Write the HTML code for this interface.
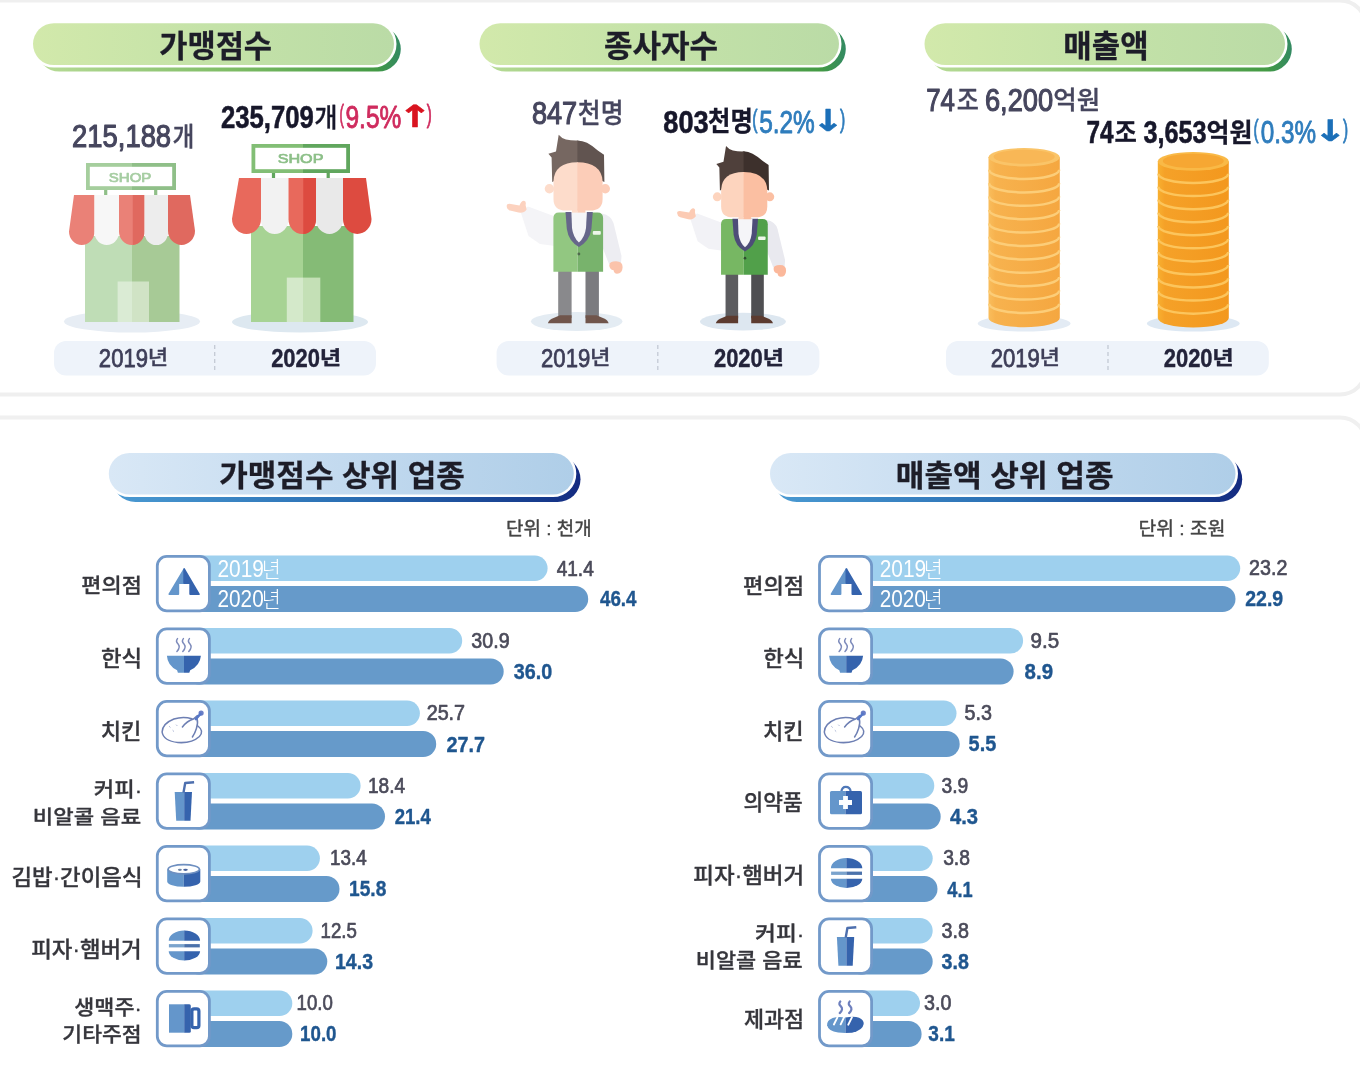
<!DOCTYPE html>
<html lang="ko"><head><meta charset="utf-8"><title>가맹점수 종사자수 매출액</title>
<style>
html,body{margin:0;padding:0;background:#fff;}
body{width:1360px;height:1072px;overflow:hidden;font-family:"Liberation Sans", "Noto Sans CJK KR", "NanumGothic", sans-serif;}
svg{display:block;}
svg text{font-family:"Liberation Sans", "Noto Sans CJK KR", "NanumGothic", sans-serif;}
</style></head><body>
<svg width="1360" height="1072" viewBox="0 0 1360 1072">
<defs>
<linearGradient id="gp" x1="0" x2="1" y1="0" y2="0"><stop offset="0" stop-color="#d2e9ab"/><stop offset="0.5" stop-color="#c4e2a8"/><stop offset="1" stop-color="#badba6"/></linearGradient>
<linearGradient id="gs" x1="0" x2="1" y1="0" y2="0"><stop offset="0" stop-color="#b9dc98"/><stop offset="0.55" stop-color="#7cbb63"/><stop offset="0.93" stop-color="#439a44"/><stop offset="1" stop-color="#338a62"/></linearGradient>
<linearGradient id="bp" x1="0" x2="1" y1="0" y2="0"><stop offset="0" stop-color="#d9e8f6"/><stop offset="0.5" stop-color="#c3daef"/><stop offset="1" stop-color="#afcee8"/></linearGradient>
<linearGradient id="bs" x1="0" x2="1" y1="0" y2="0"><stop offset="0" stop-color="#4a9ad2"/><stop offset="0.5" stop-color="#2a6fb4"/><stop offset="0.92" stop-color="#163a8c"/><stop offset="1" stop-color="#142a80"/></linearGradient>
<linearGradient id="c1" x1="0" x2="1" y1="0" y2="0"><stop offset="0" stop-color="#f9bd5c"/><stop offset="0.1" stop-color="#f7b24e"/><stop offset="1" stop-color="#f5a740"/></linearGradient>
<linearGradient id="c2" x1="0" x2="1" y1="0" y2="0"><stop offset="0" stop-color="#f8b030"/><stop offset="0.1" stop-color="#f5a128"/><stop offset="1" stop-color="#f3981e"/></linearGradient>
</defs>
<rect x="-40" y="0.5" width="1406" height="394" rx="26" fill="#fff" stroke="#efefef" stroke-width="4"/>
<rect x="-40" y="417.5" width="1406" height="700" rx="26" fill="#fff" stroke="#f0f0f0" stroke-width="4"/>
<rect x="36.8" y="26.5" width="364.0" height="45.099999999999994" rx="22.549999999999997" fill="url(#gs)"/>
<rect x="33" y="23.2" width="361" height="41.8" rx="20.9" fill="#fff" stroke="#fff" stroke-width="5"/>
<rect x="33" y="23.2" width="361" height="41.8" rx="20.9" fill="url(#gp)"/>
<rect x="483.3" y="26.5" width="362.49999999999994" height="45.099999999999994" rx="22.549999999999997" fill="url(#gs)"/>
<rect x="479.5" y="23.2" width="359.5" height="41.8" rx="20.9" fill="#fff" stroke="#fff" stroke-width="5"/>
<rect x="479.5" y="23.2" width="359.5" height="41.8" rx="20.9" fill="url(#gp)"/>
<rect x="928.3" y="26.5" width="363.5" height="45.099999999999994" rx="22.549999999999997" fill="url(#gs)"/>
<rect x="924.5" y="23.2" width="360.5" height="41.8" rx="20.9" fill="#fff" stroke="#fff" stroke-width="5"/>
<rect x="924.5" y="23.2" width="360.5" height="41.8" rx="20.9" fill="url(#gp)"/>
<text x="159.23" y="56.83" font-size="30.21" font-weight="700" fill="#1d1d28" stroke="#1d1d28" stroke-width="0.3" stroke-linejoin="round" textLength="112.85" lengthAdjust="spacingAndGlyphs">가맹점수</text>
<text x="603.91" y="56.83" font-size="30.21" font-weight="700" fill="#1d1d28" stroke="#1d1d28" stroke-width="0.3" stroke-linejoin="round" textLength="114.18" lengthAdjust="spacingAndGlyphs">종사자수</text>
<text x="1063.29" y="56.78" font-size="30.74" font-weight="700" fill="#1d1d28" stroke="#1d1d28" stroke-width="0.3" stroke-linejoin="round" textLength="85.34" lengthAdjust="spacingAndGlyphs">매출액</text>
<text><tspan x="72.11" y="146.60" font-size="31.20" font-weight="400" fill="#46465e" stroke="#46465e" stroke-width="1.15" stroke-linejoin="round" textLength="99.01" lengthAdjust="spacingAndGlyphs">215,188</tspan><tspan x="172.40" y="145.54" font-size="25.70" font-weight="500" fill="#46465e" stroke="#46465e" stroke-width="0.3" stroke-linejoin="round" textLength="21.89" lengthAdjust="spacingAndGlyphs">개</tspan></text>
<text><tspan x="220.93" y="128.20" font-size="31.20" font-weight="700" fill="#17172a" stroke="#17172a" stroke-width="0.6" stroke-linejoin="round" textLength="92.80" lengthAdjust="spacingAndGlyphs">235,709</tspan><tspan x="314.24" y="127.46" font-size="26.56" font-weight="500" fill="#17172a" stroke="#17172a" stroke-width="0.3" stroke-linejoin="round" textLength="23.29" lengthAdjust="spacingAndGlyphs">개</tspan></text>
<text><tspan x="531.89" y="124.20" font-size="31.20" font-weight="400" fill="#46465e" stroke="#46465e" stroke-width="1.15" stroke-linejoin="round" textLength="45.29" lengthAdjust="spacingAndGlyphs">847</tspan><tspan x="577.86" y="123.34" font-size="26.77" font-weight="500" fill="#46465e" stroke="#46465e" stroke-width="0.3" stroke-linejoin="round" textLength="45.73" lengthAdjust="spacingAndGlyphs">천명</tspan></text>
<text><tspan x="663.29" y="132.70" font-size="31.20" font-weight="700" fill="#17172a" stroke="#17172a" stroke-width="0.6" stroke-linejoin="round" textLength="45.30" lengthAdjust="spacingAndGlyphs">803</tspan><tspan x="708.12" y="131.14" font-size="27.05" font-weight="700" fill="#17172a" stroke="#17172a" stroke-width="0.3" stroke-linejoin="round" textLength="44.76" lengthAdjust="spacingAndGlyphs">천명</tspan></text>
<text><tspan x="926.28" y="110.50" font-size="31.20" font-weight="400" fill="#46465e" stroke="#46465e" stroke-width="1.15" stroke-linejoin="round" textLength="28.72" lengthAdjust="spacingAndGlyphs">74</tspan><tspan x="956.69" y="109.79" font-size="26.89" font-weight="500" fill="#46465e" stroke="#46465e" stroke-width="0.3" stroke-linejoin="round" textLength="22.12" lengthAdjust="spacingAndGlyphs">조</tspan> <tspan x="984.91" y="110.50" font-size="31.20" font-weight="400" fill="#46465e" stroke="#46465e" stroke-width="1.15" stroke-linejoin="round" textLength="68.20" lengthAdjust="spacingAndGlyphs">6,200</tspan><tspan x="1053.27" y="109.17" font-size="25.38" font-weight="500" fill="#46465e" stroke="#46465e" stroke-width="0.3" stroke-linejoin="round" textLength="46.97" lengthAdjust="spacingAndGlyphs">억원</tspan></text>
<text><tspan x="1086.53" y="143.00" font-size="31.20" font-weight="700" fill="#17172a" stroke="#17172a" stroke-width="0.6" stroke-linejoin="round" textLength="27.08" lengthAdjust="spacingAndGlyphs">74</tspan><tspan x="1114.48" y="142.31" font-size="25.79" font-weight="700" fill="#17172a" stroke="#17172a" stroke-width="0.3" stroke-linejoin="round" textLength="22.34" lengthAdjust="spacingAndGlyphs">조</tspan> <tspan x="1143.60" y="143.00" font-size="31.20" font-weight="700" fill="#17172a" stroke="#17172a" stroke-width="0.6" stroke-linejoin="round" textLength="63.01" lengthAdjust="spacingAndGlyphs">3,653</tspan><tspan x="1206.60" y="142.27" font-size="25.79" font-weight="700" fill="#17172a" stroke="#17172a" stroke-width="0.3" stroke-linejoin="round" textLength="45.89" lengthAdjust="spacingAndGlyphs">억원</tspan></text>
<text><tspan x="339.45" y="123.40" font-size="25.96" font-weight="400" fill="#cf2b5e" stroke="#cf2b5e" stroke-width="0.9" stroke-linejoin="round" textLength="4.44" lengthAdjust="spacingAndGlyphs">(</tspan><tspan x="345.47" y="128.20" font-size="31.20" font-weight="400" fill="#cf2b5e" stroke="#cf2b5e" stroke-width="0.9" stroke-linejoin="round" textLength="55.79" lengthAdjust="spacingAndGlyphs">9.5%</tspan><tspan x="397.74" y="127.25" font-size="30.41" font-weight="700" fill="#d9131f" stroke="#d9131f" stroke-width="0.5" stroke-linejoin="round" font-family='"DejaVu Sans", "Noto Sans CJK KR", sans-serif' textLength="34.43" lengthAdjust="spacingAndGlyphs">↑</tspan><tspan x="426.85" y="123.40" font-size="25.96" font-weight="400" fill="#cf2b5e" stroke="#cf2b5e" stroke-width="0.9" stroke-linejoin="round" textLength="5.00" lengthAdjust="spacingAndGlyphs">)</tspan></text>
<text><tspan x="752.29" y="127.63" font-size="26.28" font-weight="400" fill="#2f7dbd" stroke="#2f7dbd" stroke-width="0.9" stroke-linejoin="round" textLength="5.30" lengthAdjust="spacingAndGlyphs">(</tspan><tspan x="759.17" y="132.70" font-size="31.20" font-weight="400" fill="#2f7dbd" stroke="#2f7dbd" stroke-width="0.9" stroke-linejoin="round" textLength="55.69" lengthAdjust="spacingAndGlyphs">5.2%</tspan><tspan x="811.98" y="130.75" font-size="30.27" font-weight="700" fill="#1b6fb8" stroke="#1b6fb8" stroke-width="0.5" stroke-linejoin="round" font-family='"DejaVu Sans", "Noto Sans CJK KR", sans-serif' textLength="32.06" lengthAdjust="spacingAndGlyphs">↓</tspan><tspan x="840.05" y="127.63" font-size="26.28" font-weight="400" fill="#2f7dbd" stroke="#2f7dbd" stroke-width="0.9" stroke-linejoin="round" textLength="5.23" lengthAdjust="spacingAndGlyphs">)</tspan></text>
<text><tspan x="1253.54" y="138.09" font-size="25.53" font-weight="400" fill="#2f7dbd" stroke="#2f7dbd" stroke-width="0.9" stroke-linejoin="round" textLength="5.06" lengthAdjust="spacingAndGlyphs">(</tspan><tspan x="1260.72" y="143.00" font-size="31.20" font-weight="400" fill="#2f7dbd" stroke="#2f7dbd" stroke-width="0.9" stroke-linejoin="round" textLength="55.23" lengthAdjust="spacingAndGlyphs">0.3%</tspan><tspan x="1313.55" y="141.25" font-size="29.59" font-weight="700" fill="#1b6fb8" stroke="#1b6fb8" stroke-width="0.5" stroke-linejoin="round" font-family='"DejaVu Sans", "Noto Sans CJK KR", sans-serif' textLength="33.52" lengthAdjust="spacingAndGlyphs">↓</tspan><tspan x="1342.95" y="138.09" font-size="25.53" font-weight="400" fill="#2f7dbd" stroke="#2f7dbd" stroke-width="0.9" stroke-linejoin="round" textLength="5.11" lengthAdjust="spacingAndGlyphs">)</tspan></text>
<rect x="54" y="341" width="322" height="34.5" rx="12" fill="#eef3fa"/>
<line x1="214.7" y1="345" x2="214.7" y2="373" stroke="#c3c9d4" stroke-width="1.3" stroke-dasharray="4 3"/>
<text><tspan x="98.87" y="366.80" font-size="25.40" font-weight="400" fill="#3e3e58" stroke="#3e3e58" stroke-width="0.75" stroke-linejoin="round" textLength="49.18" lengthAdjust="spacingAndGlyphs">2019</tspan><tspan x="147.84" y="365.23" font-size="20.33" font-weight="500" fill="#3e3e58" stroke="#3e3e58" stroke-width="0.3" stroke-linejoin="round" textLength="20.51" lengthAdjust="spacingAndGlyphs">년</tspan></text>
<text><tspan x="271.14" y="366.80" font-size="25.40" font-weight="700" fill="#23233a" stroke="#23233a" stroke-width="0.4" stroke-linejoin="round" textLength="48.85" lengthAdjust="spacingAndGlyphs">2020</tspan><tspan x="319.75" y="365.06" font-size="19.89" font-weight="700" fill="#23233a" stroke="#23233a" stroke-width="0.3" stroke-linejoin="round" textLength="21.47" lengthAdjust="spacingAndGlyphs">년</tspan></text>
<rect x="496.6" y="341" width="322.79999999999995" height="34.5" rx="12" fill="#eef3fa"/>
<line x1="657.8" y1="345" x2="657.8" y2="373" stroke="#c3c9d4" stroke-width="1.3" stroke-dasharray="4 3"/>
<text><tspan x="541.07" y="366.80" font-size="25.40" font-weight="400" fill="#3e3e58" stroke="#3e3e58" stroke-width="0.75" stroke-linejoin="round" textLength="49.18" lengthAdjust="spacingAndGlyphs">2019</tspan><tspan x="590.04" y="365.23" font-size="20.33" font-weight="500" fill="#3e3e58" stroke="#3e3e58" stroke-width="0.3" stroke-linejoin="round" textLength="20.51" lengthAdjust="spacingAndGlyphs">년</tspan></text>
<text><tspan x="713.94" y="366.80" font-size="25.40" font-weight="700" fill="#23233a" stroke="#23233a" stroke-width="0.4" stroke-linejoin="round" textLength="48.85" lengthAdjust="spacingAndGlyphs">2020</tspan><tspan x="762.55" y="365.06" font-size="19.89" font-weight="700" fill="#23233a" stroke="#23233a" stroke-width="0.3" stroke-linejoin="round" textLength="21.47" lengthAdjust="spacingAndGlyphs">년</tspan></text>
<rect x="946" y="341" width="322.79999999999995" height="34.5" rx="12" fill="#eef3fa"/>
<line x1="1108" y1="345" x2="1108" y2="373" stroke="#c3c9d4" stroke-width="1.3" stroke-dasharray="4 3"/>
<text><tspan x="990.67" y="366.80" font-size="25.40" font-weight="400" fill="#3e3e58" stroke="#3e3e58" stroke-width="0.75" stroke-linejoin="round" textLength="49.18" lengthAdjust="spacingAndGlyphs">2019</tspan><tspan x="1039.64" y="365.23" font-size="20.33" font-weight="500" fill="#3e3e58" stroke="#3e3e58" stroke-width="0.3" stroke-linejoin="round" textLength="20.51" lengthAdjust="spacingAndGlyphs">년</tspan></text>
<text><tspan x="1163.74" y="366.80" font-size="25.40" font-weight="700" fill="#23233a" stroke="#23233a" stroke-width="0.4" stroke-linejoin="round" textLength="48.85" lengthAdjust="spacingAndGlyphs">2020</tspan><tspan x="1212.35" y="365.06" font-size="19.89" font-weight="700" fill="#23233a" stroke="#23233a" stroke-width="0.3" stroke-linejoin="round" textLength="21.47" lengthAdjust="spacingAndGlyphs">년</tspan></text>
<ellipse cx="132" cy="321.5" rx="68" ry="11" fill="#e7edf4"/>
<rect x="85" y="236" width="47" height="86" fill="#bfddb6"/>
<rect x="132" y="236" width="47.5" height="86" fill="#a7ca96"/>
<rect x="117.6" y="281.5" width="14.400000000000006" height="40.5" fill="#daebd4"/>
<rect x="132" y="281.5" width="17" height="40.5" fill="#d0e3c5"/>
<rect x="104.10000000000001" y="189" width="3.2" height="7" fill="#8fbf88"/>
<rect x="154.1" y="189" width="3.2" height="7" fill="#8fbf88"/>
<path d="M74,195 L94.5,195 L94.5,231.6125 A12.75,13.387500000000001 0 0 1 69,231.6125 Z" fill="#ea8177"/>
<path d="M94.5,195 L119,195 L119,232.1375 A12.25,12.8625 0 0 1 94.5,232.1375 Z" fill="#f7f7f7"/>
<path d="M119,195 L144.5,195 L144.5,231.6125 A12.75,13.387500000000001 0 0 1 119,231.6125 Z" fill="#ea8177"/>
<path d="M132.75,195 L144.5,195 L144.5,231.6125 A12.75,13.387500000000001 0 0 1 132.75,245 Z" fill="#e0695f"/>
<path d="M144.5,195 L168,195 L168,232.6625 A11.75,12.3375 0 0 1 144.5,232.6625 Z" fill="#ededed"/>
<path d="M168,195 L190,195 L195,230.825 A13.5,14.175 0 0 1 168,230.825 Z" fill="#e0695f"/>
<rect x="86" y="163" width="46" height="27" fill="#a5ce9d"/>
<rect x="132" y="163" width="44" height="27" fill="#8fbf88"/>
<rect x="89.8" y="166.8" width="82.4" height="19.4" fill="#fff"/>
<text x="108.75" y="181.52" font-size="12.64" font-weight="400" fill="#a6cda2" stroke="#a6cda2" stroke-width="0.7" stroke-linejoin="round" textLength="42.61" lengthAdjust="spacingAndGlyphs">SHOP</text>
<ellipse cx="300" cy="322" rx="68" ry="10.5" fill="#dde8f0"/>
<rect x="251" y="226" width="52" height="96" fill="#a7d394"/>
<rect x="303" y="226" width="50.5" height="96" fill="#85bb76"/>
<rect x="286.8" y="277.6" width="16.19999999999999" height="44.39999999999998" fill="#d4e9ca"/>
<rect x="303" y="277.6" width="17.30000000000001" height="44.39999999999998" fill="#c4e0b6"/>
<rect x="271.9" y="172" width="3.2" height="7" fill="#60a65d"/>
<rect x="326.59999999999997" y="172" width="3.2" height="7" fill="#60a65d"/>
<path d="M239,178 L261,178 L261,218.775 A14.5,15.225000000000001 0 0 1 232,218.775 Z" fill="#e8695c"/>
<path d="M261,178 L288.5,178 L288.5,219.5625 A13.75,14.4375 0 0 1 261,219.5625 Z" fill="#f2f2f2"/>
<path d="M288.5,178 L316,178 L316,219.5625 A13.75,14.4375 0 0 1 288.5,219.5625 Z" fill="#e8695c"/>
<path d="M303.25,178 L316,178 L316,219.5625 A13.75,14.4375 0 0 1 303.25,234 Z" fill="#dd4b40"/>
<path d="M316,178 L343,178 L343,219.825 A13.5,14.175 0 0 1 316,219.825 Z" fill="#e9e9e9"/>
<path d="M343,178 L366,178 L371.5,219.0375 A14.25,14.9625 0 0 1 343,219.0375 Z" fill="#dd4b40"/>
<rect x="251.5" y="144" width="51.5" height="29" fill="#82be75"/>
<rect x="303" y="144" width="47" height="29" fill="#60a65d"/>
<rect x="255.3" y="147.8" width="90.9" height="21.4" fill="#fff"/>
<text x="277.70" y="162.52" font-size="12.64" font-weight="400" fill="#8cbf88" stroke="#8cbf88" stroke-width="0.7" stroke-linejoin="round" textLength="45.70" lengthAdjust="spacingAndGlyphs">SHOP</text>
<g transform="">
<ellipse cx="576.7" cy="321.5" rx="45.8" ry="9.5" fill="#e4ecf3"/>
<rect x="558.2" y="268" width="13.4" height="50" fill="#89898c"/>
<rect x="585.5" y="268" width="13.4" height="50" fill="#7b7b7f"/>
<path d="M547.9,323.3 Q548.3,320.3 553,318.2 L560,315.2 L571.6,315.2 L571.6,323.3 Z" fill="#70554b"/>
<path d="M608.6,323.3 Q608.2,320.3 603.5,318.2 L596.5,315.2 L585.5,315.2 L585.5,323.3 Z" fill="#70554b"/>
<path d="M555,216.5 L528,206.5 L520.5,211.5 L528.5,236 L540,244 L555,246 Z" fill="#f4f4f7"/>
<path d="M602,213.5 Q611,215 613.5,223 L621.5,256 L621,263 L609,264 L602,246 Z" fill="#ededf2"/>
<path d="M506.7,206.3 Q506.5,203.8 509.5,203.8 L519.5,205.5 Q521,201 524,200.8 Q526.5,201.3 525.6,205 L526.6,209.5 Q524,213.5 518.5,212.6 L510,210.6 Q506.9,209.5 506.7,206.3 Z" fill="#fcd2bf"/>
<path d="M609.3,265.2 Q609.3,261.3 616,261.3 Q622.8,261.3 622.6,267.3 Q622.4,273.7 617,273.7 Q614,273.7 613.6,270.3 Q609.3,269.3 609.3,265.2 Z" fill="#fbc3ab"/>
<path d="M553.4,218 Q553.4,212.4 559,212.4 L577.6,212.4 L577.6,271.7 L553.4,271.7 Z" fill="#92c781"/>
<path d="M577.6,212.4 L597.5,212.4 Q603.1,212.4 603.1,218 L603.1,271.7 L577.6,271.7 Z" fill="#78b36c"/>
<path d="M565.5,212 L566.8,229 Q568.5,241 578.9,247 Q589.5,241 591.4,229 L592.8,212 Z" fill="#66668a"/>
<path d="M571.4,212 L572,228 Q573.2,237.5 578.9,242.4 Q584.8,237.5 586,228 L586.9,212 Z" fill="#f5f5f8"/>
<rect x="592.8" y="231" width="8" height="3.7" rx="1" fill="#eef6ea"/>
<circle cx="578.9" cy="254" r="1.4" fill="#4f6a4c"/>
<circle cx="549.4" cy="188.7" r="4.7" fill="#fddccb"/>
<circle cx="605.3" cy="188.7" r="4.7" fill="#fccdb8"/>
<path d="M552.2,182 L551.6,157.5 L548.4,153.7 L556,151.4 L558.7,134.7 Q561.5,138.3 566,139.4 Q571.5,140.6 577.4,140.4 L578.2,140.4 L578.2,170 Z" fill="#766761"/>
<path d="M577.4,140.4 Q582.5,140.6 587,142.8 Q593,146 597.8,150.6 L604,154.8 L604.4,182 L577.4,170 Z" fill="#615450"/>
<path d="M577.4,162.3 Q554.5,162.5 553.5,181 L553.5,199 Q553.5,210.6 566,210.6 L578,210.6 L578,162.3 Z" fill="#fddccb"/>
<path d="M577.4,162.3 Q601.2,162.5 602.6,181 L602.6,199 Q602.6,210.6 590,210.6 L577.4,210.6 Z" fill="#fccdb8"/>
<rect x="572" y="209" width="5.4" height="3.6" fill="#fddccb"/><rect x="577.4" y="209" width="8" height="3.6" fill="#fccdb8"/>
</g>
<g transform="translate(743.6 323.3) scale(0.94) translate(-577.4 -323.3)">
<ellipse cx="576.7" cy="321.5" rx="45.8" ry="9.5" fill="#dde7f0"/>
<rect x="558.2" y="268" width="13.4" height="50" fill="#5c5c5f"/>
<rect x="585.5" y="268" width="13.4" height="50" fill="#4f4f52"/>
<path d="M547.9,323.3 Q548.3,320.3 553,318.2 L560,315.2 L571.6,315.2 L571.6,323.3 Z" fill="#5c3b2f"/>
<path d="M608.6,323.3 Q608.2,320.3 603.5,318.2 L596.5,315.2 L585.5,315.2 L585.5,323.3 Z" fill="#5c3b2f"/>
<path d="M555,216.5 L528,206.5 L520.5,211.5 L528.5,236 L540,244 L555,246 Z" fill="#f2f2f6"/>
<path d="M602,213.5 Q611,215 613.5,223 L621.5,256 L621,263 L609,264 L602,246 Z" fill="#e9e9ef"/>
<path d="M506.7,206.3 Q506.5,203.8 509.5,203.8 L519.5,205.5 Q521,201 524,200.8 Q526.5,201.3 525.6,205 L526.6,209.5 Q524,213.5 518.5,212.6 L510,210.6 Q506.9,209.5 506.7,206.3 Z" fill="#fccbb4"/>
<path d="M609.3,265.2 Q609.3,261.3 616,261.3 Q622.8,261.3 622.6,267.3 Q622.4,273.7 617,273.7 Q614,273.7 613.6,270.3 Q609.3,269.3 609.3,265.2 Z" fill="#fbb89b"/>
<path d="M553.4,218 Q553.4,212.4 559,212.4 L577.6,212.4 L577.6,271.7 L553.4,271.7 Z" fill="#77b763"/>
<path d="M577.6,212.4 L597.5,212.4 Q603.1,212.4 603.1,218 L603.1,271.7 L577.6,271.7 Z" fill="#51a04a"/>
<path d="M565.5,212 L566.8,229 Q568.5,241 578.9,247 Q589.5,241 591.4,229 L592.8,212 Z" fill="#4d4d78"/>
<path d="M571.4,212 L572,228 Q573.2,237.5 578.9,242.4 Q584.8,237.5 586,228 L586.9,212 Z" fill="#f5f5f8"/>
<rect x="592.8" y="231" width="8" height="3.7" rx="1" fill="#eef6ea"/>
<circle cx="578.9" cy="254" r="1.4" fill="#2f4f2f"/>
<circle cx="549.4" cy="188.7" r="4.7" fill="#fdd4be"/>
<circle cx="605.3" cy="188.7" r="4.7" fill="#fbbfa2"/>
<path d="M552.2,182 L551.6,157.5 L548.4,153.7 L556,151.4 L558.7,134.7 Q561.5,138.3 566,139.4 Q571.5,140.6 577.4,140.4 L578.2,140.4 L578.2,170 Z" fill="#4f403b"/>
<path d="M577.4,140.4 Q582.5,140.6 587,142.8 Q593,146 597.8,150.6 L604,154.8 L604.4,182 L577.4,170 Z" fill="#3d302c"/>
<path d="M577.4,162.3 Q554.5,162.5 553.5,181 L553.5,199 Q553.5,210.6 566,210.6 L578,210.6 L578,162.3 Z" fill="#fdd4be"/>
<path d="M577.4,162.3 Q601.2,162.5 602.6,181 L602.6,199 Q602.6,210.6 590,210.6 L577.4,210.6 Z" fill="#fbbfa2"/>
<rect x="572" y="209" width="5.4" height="3.6" fill="#fdd4be"/><rect x="577.4" y="209" width="8" height="3.6" fill="#fbbfa2"/>
</g>
<ellipse cx="1024.15" cy="323.5" rx="46.5" ry="8" fill="#e3ebf4"/>
<path d="M988.5,157.2 L988.5,318.0 A35.64999999999998,9.2 0 0 0 1059.8,318.0 L1059.8,157.2 Z" fill="url(#c1)"/>
<path d="M989.1,169.79999999999998 A35.049999999999976,9.2 0 0 0 1059.2,169.79999999999998" fill="none" stroke="#fccd78" stroke-width="2.5"/>
<path d="M989.1,183.2 A35.049999999999976,9.2 0 0 0 1059.2,183.2" fill="none" stroke="#fccd78" stroke-width="2.5"/>
<path d="M989.1,196.59999999999997 A35.049999999999976,9.2 0 0 0 1059.2,196.59999999999997" fill="none" stroke="#fccd78" stroke-width="2.5"/>
<path d="M989.1,209.99999999999997 A35.049999999999976,9.2 0 0 0 1059.2,209.99999999999997" fill="none" stroke="#fccd78" stroke-width="2.5"/>
<path d="M989.1,223.39999999999998 A35.049999999999976,9.2 0 0 0 1059.2,223.39999999999998" fill="none" stroke="#fccd78" stroke-width="2.5"/>
<path d="M989.1,236.79999999999998 A35.049999999999976,9.2 0 0 0 1059.2,236.79999999999998" fill="none" stroke="#fccd78" stroke-width="2.5"/>
<path d="M989.1,250.2 A35.049999999999976,9.2 0 0 0 1059.2,250.2" fill="none" stroke="#fccd78" stroke-width="2.5"/>
<path d="M989.1,263.59999999999997 A35.049999999999976,9.2 0 0 0 1059.2,263.59999999999997" fill="none" stroke="#fccd78" stroke-width="2.5"/>
<path d="M989.1,277.0 A35.049999999999976,9.2 0 0 0 1059.2,277.0" fill="none" stroke="#fccd78" stroke-width="2.5"/>
<path d="M989.1,290.4 A35.049999999999976,9.2 0 0 0 1059.2,290.4" fill="none" stroke="#fccd78" stroke-width="2.5"/>
<path d="M989.1,303.8 A35.049999999999976,9.2 0 0 0 1059.2,303.8" fill="none" stroke="#fccd78" stroke-width="2.5"/>
<ellipse cx="1024.15" cy="157.2" rx="35.64999999999998" ry="9.2" fill="#fac468"/>
<ellipse cx="1024.15" cy="156.7" rx="30.649999999999977" ry="6.999999999999999" fill="#f8b756"/>
<ellipse cx="1193.3" cy="323.5" rx="46.5" ry="8" fill="#dde8f3"/>
<path d="M1157.8,161.4 L1157.8,318.12 A35.5,9.4 0 0 0 1228.8,318.12 L1228.8,161.4 Z" fill="url(#c2)"/>
<path d="M1158.3999999999999,173.66 A34.9,9.4 0 0 0 1228.2,173.66" fill="none" stroke="#fcc55c" stroke-width="2.5"/>
<path d="M1158.3999999999999,186.72 A34.9,9.4 0 0 0 1228.2,186.72" fill="none" stroke="#fcc55c" stroke-width="2.5"/>
<path d="M1158.3999999999999,199.78 A34.9,9.4 0 0 0 1228.2,199.78" fill="none" stroke="#fcc55c" stroke-width="2.5"/>
<path d="M1158.3999999999999,212.84 A34.9,9.4 0 0 0 1228.2,212.84" fill="none" stroke="#fcc55c" stroke-width="2.5"/>
<path d="M1158.3999999999999,225.89999999999998 A34.9,9.4 0 0 0 1228.2,225.89999999999998" fill="none" stroke="#fcc55c" stroke-width="2.5"/>
<path d="M1158.3999999999999,238.95999999999998 A34.9,9.4 0 0 0 1228.2,238.95999999999998" fill="none" stroke="#fcc55c" stroke-width="2.5"/>
<path d="M1158.3999999999999,252.01999999999998 A34.9,9.4 0 0 0 1228.2,252.01999999999998" fill="none" stroke="#fcc55c" stroke-width="2.5"/>
<path d="M1158.3999999999999,265.08 A34.9,9.4 0 0 0 1228.2,265.08" fill="none" stroke="#fcc55c" stroke-width="2.5"/>
<path d="M1158.3999999999999,278.14 A34.9,9.4 0 0 0 1228.2,278.14" fill="none" stroke="#fcc55c" stroke-width="2.5"/>
<path d="M1158.3999999999999,291.2 A34.9,9.4 0 0 0 1228.2,291.2" fill="none" stroke="#fcc55c" stroke-width="2.5"/>
<path d="M1158.3999999999999,304.26 A34.9,9.4 0 0 0 1228.2,304.26" fill="none" stroke="#fcc55c" stroke-width="2.5"/>
<ellipse cx="1193.3" cy="161.4" rx="35.5" ry="9.4" fill="#f9b946"/>
<ellipse cx="1193.3" cy="160.9" rx="30.5" ry="7.2" fill="#f6a733"/>
<rect x="112.6" y="456.3" width="467.9" height="45.80000000000001" rx="22.900000000000006" fill="url(#bs)"/>
<rect x="108.8" y="453" width="464.99999999999994" height="41.5" rx="20.75" fill="#fff" stroke="#fff" stroke-width="5"/>
<rect x="108.8" y="453" width="464.99999999999994" height="41.5" rx="20.75" fill="url(#bp)"/>
<rect x="773.8" y="456.3" width="468.4000000000001" height="45.80000000000001" rx="22.900000000000006" fill="url(#bs)"/>
<rect x="770" y="453" width="465.5" height="41.5" rx="20.75" fill="#fff" stroke="#fff" stroke-width="5"/>
<rect x="770" y="453" width="465.5" height="41.5" rx="20.75" fill="url(#bp)"/>
<text x="219.22" y="486.38" font-size="29.68" font-weight="700" fill="#1d1d28" stroke="#1d1d28" stroke-width="0.3" stroke-linejoin="round" textLength="245.67" lengthAdjust="spacingAndGlyphs">가맹점수 상위 업종</text>
<text x="895.78" y="486.38" font-size="29.68" font-weight="700" fill="#1d1d28" stroke="#1d1d28" stroke-width="0.3" stroke-linejoin="round" textLength="217.81" lengthAdjust="spacingAndGlyphs">매출액 상위 업종</text>
<text x="505.99" y="535.15" font-size="18.39" font-weight="400" fill="#444" stroke="#444" stroke-width="0.4" stroke-linejoin="round" textLength="85.71" lengthAdjust="spacingAndGlyphs">단위 : 천개</text>
<text x="1138.46" y="535.15" font-size="18.39" font-weight="400" fill="#444" stroke="#444" stroke-width="0.4" stroke-linejoin="round" textLength="87.07" lengthAdjust="spacingAndGlyphs">단위 : 조원</text>
<rect x="185.9" y="555.5" width="361.7" height="25.5" rx="12.75" fill="#9ed0ee"/>
<rect x="185.9" y="586.0" width="402.3" height="26" rx="13" fill="#669aca"/>
<rect x="157.3" y="556.4" width="52.1" height="54.4" rx="9.5" fill="#fff" stroke="#7299c9" stroke-width="2.8"/>
<text x="556.67" y="575.55" font-size="21.57" font-weight="400" fill="#4b4b5a" stroke="#4b4b5a" stroke-width="0.7" stroke-linejoin="round" textLength="37.08" lengthAdjust="spacingAndGlyphs">41.4</text>
<text x="600.01" y="606.48" font-size="21.69" font-weight="700" fill="#1f568f" stroke="#1f568f" stroke-width="0.4" stroke-linejoin="round" textLength="36.52" lengthAdjust="spacingAndGlyphs">46.4</text>
<text x="81.37" y="593.39" font-size="20.65" font-weight="500" fill="#36363c" stroke="#36363c" stroke-width="0.3" stroke-linejoin="round" textLength="60.49" lengthAdjust="spacingAndGlyphs">편의점</text>
<rect x="185.9" y="628.0" width="276.3" height="25.5" rx="12.75" fill="#9ed0ee"/>
<rect x="185.9" y="658.5" width="317.8" height="26" rx="13" fill="#669aca"/>
<rect x="157.3" y="628.9" width="52.1" height="54.4" rx="9.5" fill="#fff" stroke="#7299c9" stroke-width="2.8"/>
<text x="471.36" y="647.84" font-size="21.27" font-weight="400" fill="#4b4b5a" stroke="#4b4b5a" stroke-width="0.7" stroke-linejoin="round" textLength="38.19" lengthAdjust="spacingAndGlyphs">30.9</text>
<text x="513.81" y="678.98" font-size="21.69" font-weight="700" fill="#1f568f" stroke="#1f568f" stroke-width="0.4" stroke-linejoin="round" textLength="38.41" lengthAdjust="spacingAndGlyphs">36.0</text>
<text x="100.95" y="666.10" font-size="21.72" font-weight="500" fill="#36363c" stroke="#36363c" stroke-width="0.3" stroke-linejoin="round" textLength="41.18" lengthAdjust="spacingAndGlyphs">한식</text>
<rect x="185.9" y="700.5" width="234.0" height="25.5" rx="12.75" fill="#9ed0ee"/>
<rect x="185.9" y="731.0" width="250.3" height="26" rx="13" fill="#669aca"/>
<rect x="157.3" y="701.4" width="52.1" height="54.4" rx="9.5" fill="#fff" stroke="#7299c9" stroke-width="2.8"/>
<text x="426.66" y="720.34" font-size="21.27" font-weight="400" fill="#4b4b5a" stroke="#4b4b5a" stroke-width="0.7" stroke-linejoin="round" textLength="38.40" lengthAdjust="spacingAndGlyphs">25.7</text>
<text x="446.61" y="751.70" font-size="22.00" font-weight="700" fill="#1f568f" stroke="#1f568f" stroke-width="0.4" stroke-linejoin="round" textLength="38.51" lengthAdjust="spacingAndGlyphs">27.7</text>
<text x="100.74" y="739.25" font-size="21.08" font-weight="500" fill="#36363c" stroke="#36363c" stroke-width="0.3" stroke-linejoin="round" textLength="40.70" lengthAdjust="spacingAndGlyphs">치킨</text>
<rect x="185.9" y="773.0" width="174.7" height="25.5" rx="12.75" fill="#9ed0ee"/>
<rect x="185.9" y="803.5" width="199.1" height="26" rx="13" fill="#669aca"/>
<rect x="157.3" y="773.9" width="52.1" height="54.4" rx="9.5" fill="#fff" stroke="#7299c9" stroke-width="2.8"/>
<text x="368.01" y="792.84" font-size="21.27" font-weight="400" fill="#4b4b5a" stroke="#4b4b5a" stroke-width="0.7" stroke-linejoin="round" textLength="37.13" lengthAdjust="spacingAndGlyphs">18.4</text>
<text x="394.64" y="824.20" font-size="22.00" font-weight="700" fill="#1f568f" stroke="#1f568f" stroke-width="0.4" stroke-linejoin="round" textLength="36.08" lengthAdjust="spacingAndGlyphs">21.4</text>
<text x="93.86" y="797.44" font-size="20.11" font-weight="500" fill="#36363c" stroke="#36363c" stroke-width="0.3" stroke-linejoin="round" textLength="48.19" lengthAdjust="spacingAndGlyphs">커피·</text>
<text x="32.75" y="823.61" font-size="19.35" font-weight="500" fill="#36363c" stroke="#36363c" stroke-width="0.3" stroke-linejoin="round" textLength="108.39" lengthAdjust="spacingAndGlyphs">비알콜 음료</text>
<rect x="185.9" y="845.5" width="134.0" height="25.5" rx="12.75" fill="#9ed0ee"/>
<rect x="185.9" y="876.0" width="153.6" height="26" rx="13" fill="#669aca"/>
<rect x="157.3" y="846.4" width="52.1" height="54.4" rx="9.5" fill="#fff" stroke="#7299c9" stroke-width="2.8"/>
<text x="330.03" y="865.34" font-size="21.27" font-weight="400" fill="#4b4b5a" stroke="#4b4b5a" stroke-width="0.7" stroke-linejoin="round" textLength="36.61" lengthAdjust="spacingAndGlyphs">13.4</text>
<text x="349.05" y="896.48" font-size="21.69" font-weight="700" fill="#1f568f" stroke="#1f568f" stroke-width="0.4" stroke-linejoin="round" textLength="37.25" lengthAdjust="spacingAndGlyphs">15.8</text>
<text x="11.43" y="884.72" font-size="21.40" font-weight="500" fill="#36363c" stroke="#36363c" stroke-width="0.3" stroke-linejoin="round" textLength="131.11" lengthAdjust="spacingAndGlyphs">김밥·간이음식</text>
<rect x="185.9" y="918.0" width="126.7" height="25.5" rx="12.75" fill="#9ed0ee"/>
<rect x="185.9" y="948.5" width="141.4" height="26" rx="13" fill="#669aca"/>
<rect x="157.3" y="918.9" width="52.1" height="54.4" rx="9.5" fill="#fff" stroke="#7299c9" stroke-width="2.8"/>
<text x="320.55" y="937.84" font-size="21.27" font-weight="400" fill="#4b4b5a" stroke="#4b4b5a" stroke-width="0.7" stroke-linejoin="round" textLength="36.28" lengthAdjust="spacingAndGlyphs">12.5</text>
<text x="335.03" y="968.98" font-size="21.69" font-weight="700" fill="#1f568f" stroke="#1f568f" stroke-width="0.4" stroke-linejoin="round" textLength="37.98" lengthAdjust="spacingAndGlyphs">14.3</text>
<text x="31.25" y="956.84" font-size="21.18" font-weight="500" fill="#36363c" stroke="#36363c" stroke-width="0.3" stroke-linejoin="round" textLength="110.46" lengthAdjust="spacingAndGlyphs">피자·햄버거</text>
<rect x="185.9" y="990.5" width="106.4" height="25.5" rx="12.75" fill="#9ed0ee"/>
<rect x="185.9" y="1021.0" width="106.4" height="26" rx="13" fill="#669aca"/>
<rect x="157.3" y="991.4" width="52.1" height="54.4" rx="9.5" fill="#fff" stroke="#7299c9" stroke-width="2.8"/>
<text x="296.55" y="1010.34" font-size="21.27" font-weight="400" fill="#4b4b5a" stroke="#4b4b5a" stroke-width="0.7" stroke-linejoin="round" textLength="36.28" lengthAdjust="spacingAndGlyphs">10.0</text>
<text x="300.08" y="1041.48" font-size="21.69" font-weight="700" fill="#1f568f" stroke="#1f568f" stroke-width="0.4" stroke-linejoin="round" textLength="36.40" lengthAdjust="spacingAndGlyphs">10.0</text>
<text x="74.28" y="1015.28" font-size="20.75" font-weight="500" fill="#36363c" stroke="#36363c" stroke-width="0.3" stroke-linejoin="round" textLength="67.44" lengthAdjust="spacingAndGlyphs">생맥주·</text>
<text x="62.37" y="1041.80" font-size="20.54" font-weight="500" fill="#36363c" stroke="#36363c" stroke-width="0.3" stroke-linejoin="round" textLength="79.25" lengthAdjust="spacingAndGlyphs">기타주점</text>
<text><tspan x="217.45" y="576.56" font-size="23.80" font-weight="400" fill="#fff" textLength="46.51" lengthAdjust="spacingAndGlyphs">2019</tspan><tspan x="261.63" y="576.61" font-size="21.46" font-weight="300" fill="#fff" font-family='"Noto Sans CJK KR", "NanumGothic", "Liberation Sans", sans-serif' textLength="19.05" lengthAdjust="spacingAndGlyphs">년</tspan></text>
<text><tspan x="217.46" y="607.26" font-size="23.80" font-weight="400" fill="#fff" textLength="46.29" lengthAdjust="spacingAndGlyphs">2020</tspan><tspan x="261.63" y="607.31" font-size="21.46" font-weight="300" fill="#fff" font-family='"Noto Sans CJK KR", "NanumGothic", "Liberation Sans", sans-serif' textLength="19.05" lengthAdjust="spacingAndGlyphs">년</tspan></text>
<rect x="848.1" y="555.5" width="392.1" height="25.5" rx="12.75" fill="#9ed0ee"/>
<rect x="848.1" y="586.0" width="387.4" height="26" rx="13" fill="#669aca"/>
<rect x="819.5" y="556.4" width="52.1" height="54.4" rx="9.5" fill="#fff" stroke="#7299c9" stroke-width="2.8"/>
<text x="1249.07" y="575.34" font-size="21.27" font-weight="400" fill="#4b4b5a" stroke="#4b4b5a" stroke-width="0.7" stroke-linejoin="round" textLength="38.29" lengthAdjust="spacingAndGlyphs">23.2</text>
<text x="1245.21" y="606.48" font-size="21.69" font-weight="700" fill="#1f568f" stroke="#1f568f" stroke-width="0.4" stroke-linejoin="round" textLength="37.99" lengthAdjust="spacingAndGlyphs">22.9</text>
<text x="743.06" y="593.17" font-size="20.86" font-weight="500" fill="#36363c" stroke="#36363c" stroke-width="0.3" stroke-linejoin="round" textLength="61.12" lengthAdjust="spacingAndGlyphs">편의점</text>
<rect x="848.1" y="628.0" width="175.0" height="25.5" rx="12.75" fill="#9ed0ee"/>
<rect x="848.1" y="658.5" width="165.5" height="26" rx="13" fill="#669aca"/>
<rect x="819.5" y="628.9" width="52.1" height="54.4" rx="9.5" fill="#fff" stroke="#7299c9" stroke-width="2.8"/>
<text x="1030.53" y="647.84" font-size="21.27" font-weight="400" fill="#4b4b5a" stroke="#4b4b5a" stroke-width="0.7" stroke-linejoin="round" textLength="28.56" lengthAdjust="spacingAndGlyphs">9.5</text>
<text x="1024.59" y="678.98" font-size="21.69" font-weight="700" fill="#1f568f" stroke="#1f568f" stroke-width="0.4" stroke-linejoin="round" textLength="28.45" lengthAdjust="spacingAndGlyphs">8.9</text>
<text x="763.25" y="665.90" font-size="21.72" font-weight="500" fill="#36363c" stroke="#36363c" stroke-width="0.3" stroke-linejoin="round" textLength="41.18" lengthAdjust="spacingAndGlyphs">한식</text>
<rect x="848.1" y="700.5" width="108.4" height="25.5" rx="12.75" fill="#9ed0ee"/>
<rect x="848.1" y="731.0" width="111.6" height="26" rx="13" fill="#669aca"/>
<rect x="819.5" y="701.4" width="52.1" height="54.4" rx="9.5" fill="#fff" stroke="#7299c9" stroke-width="2.8"/>
<text x="964.56" y="720.34" font-size="21.27" font-weight="400" fill="#4b4b5a" stroke="#4b4b5a" stroke-width="0.7" stroke-linejoin="round" textLength="27.40" lengthAdjust="spacingAndGlyphs">5.3</text>
<text x="968.60" y="751.48" font-size="22.00" font-weight="700" fill="#1f568f" stroke="#1f568f" stroke-width="0.4" stroke-linejoin="round" textLength="27.62" lengthAdjust="spacingAndGlyphs">5.5</text>
<text x="763.04" y="738.94" font-size="21.18" font-weight="500" fill="#36363c" stroke="#36363c" stroke-width="0.3" stroke-linejoin="round" textLength="40.70" lengthAdjust="spacingAndGlyphs">치킨</text>
<rect x="848.1" y="773.0" width="86.2" height="25.5" rx="12.75" fill="#9ed0ee"/>
<rect x="848.1" y="803.5" width="92.6" height="26" rx="13" fill="#669aca"/>
<rect x="819.5" y="773.9" width="52.1" height="54.4" rx="9.5" fill="#fff" stroke="#7299c9" stroke-width="2.8"/>
<text x="941.47" y="792.84" font-size="21.27" font-weight="400" fill="#4b4b5a" stroke="#4b4b5a" stroke-width="0.7" stroke-linejoin="round" textLength="26.77" lengthAdjust="spacingAndGlyphs">3.9</text>
<text x="950.00" y="823.98" font-size="21.69" font-weight="700" fill="#1f568f" stroke="#1f568f" stroke-width="0.4" stroke-linejoin="round" textLength="28.03" lengthAdjust="spacingAndGlyphs">4.3</text>
<text x="743.48" y="809.91" font-size="21.51" font-weight="500" fill="#36363c" stroke="#36363c" stroke-width="0.3" stroke-linejoin="round" textLength="59.13" lengthAdjust="spacingAndGlyphs">의약품</text>
<rect x="848.1" y="845.5" width="84.6" height="25.5" rx="12.75" fill="#9ed0ee"/>
<rect x="848.1" y="876.0" width="89.4" height="26" rx="13" fill="#669aca"/>
<rect x="819.5" y="846.4" width="52.1" height="54.4" rx="9.5" fill="#fff" stroke="#7299c9" stroke-width="2.8"/>
<text x="943.17" y="865.34" font-size="21.27" font-weight="400" fill="#4b4b5a" stroke="#4b4b5a" stroke-width="0.7" stroke-linejoin="round" textLength="26.77" lengthAdjust="spacingAndGlyphs">3.8</text>
<text x="947.32" y="896.70" font-size="22.32" font-weight="700" fill="#1f568f" stroke="#1f568f" stroke-width="0.4" stroke-linejoin="round" textLength="25.36" lengthAdjust="spacingAndGlyphs">4.1</text>
<text x="693.35" y="882.92" font-size="21.40" font-weight="500" fill="#36363c" stroke="#36363c" stroke-width="0.3" stroke-linejoin="round" textLength="110.87" lengthAdjust="spacingAndGlyphs">피자·햄버거</text>
<rect x="848.1" y="918.0" width="84.6" height="25.5" rx="12.75" fill="#9ed0ee"/>
<rect x="848.1" y="948.5" width="84.6" height="26" rx="13" fill="#669aca"/>
<rect x="819.5" y="918.9" width="52.1" height="54.4" rx="9.5" fill="#fff" stroke="#7299c9" stroke-width="2.8"/>
<text x="941.46" y="937.84" font-size="21.27" font-weight="400" fill="#4b4b5a" stroke="#4b4b5a" stroke-width="0.7" stroke-linejoin="round" textLength="27.40" lengthAdjust="spacingAndGlyphs">3.8</text>
<text x="941.51" y="968.98" font-size="21.69" font-weight="700" fill="#1f568f" stroke="#1f568f" stroke-width="0.4" stroke-linejoin="round" textLength="27.31" lengthAdjust="spacingAndGlyphs">3.8</text>
<text x="755.04" y="941.34" font-size="20.11" font-weight="500" fill="#36363c" stroke="#36363c" stroke-width="0.3" stroke-linejoin="round" textLength="49.27" lengthAdjust="spacingAndGlyphs">커피·</text>
<text x="695.78" y="968.44" font-size="20.11" font-weight="500" fill="#36363c" stroke="#36363c" stroke-width="0.3" stroke-linejoin="round" textLength="106.85" lengthAdjust="spacingAndGlyphs">비알콜 음료</text>
<rect x="848.1" y="990.5" width="71.9" height="25.5" rx="12.75" fill="#9ed0ee"/>
<rect x="848.1" y="1021.0" width="73.5" height="26" rx="13" fill="#669aca"/>
<rect x="819.5" y="991.4" width="52.1" height="54.4" rx="9.5" fill="#fff" stroke="#7299c9" stroke-width="2.8"/>
<text x="924.06" y="1010.34" font-size="21.27" font-weight="400" fill="#4b4b5a" stroke="#4b4b5a" stroke-width="0.7" stroke-linejoin="round" textLength="27.30" lengthAdjust="spacingAndGlyphs">3.0</text>
<text x="928.32" y="1041.48" font-size="21.69" font-weight="700" fill="#1f568f" stroke="#1f568f" stroke-width="0.4" stroke-linejoin="round" textLength="26.48" lengthAdjust="spacingAndGlyphs">3.1</text>
<text x="743.90" y="1026.51" font-size="21.51" font-weight="500" fill="#36363c" stroke="#36363c" stroke-width="0.3" stroke-linejoin="round" textLength="60.26" lengthAdjust="spacingAndGlyphs">제과점</text>
<text><tspan x="879.65" y="576.56" font-size="23.80" font-weight="400" fill="#fff" textLength="46.51" lengthAdjust="spacingAndGlyphs">2019</tspan><tspan x="923.83" y="576.61" font-size="21.46" font-weight="300" fill="#fff" font-family='"Noto Sans CJK KR", "NanumGothic", "Liberation Sans", sans-serif' textLength="19.05" lengthAdjust="spacingAndGlyphs">년</tspan></text>
<text><tspan x="879.66" y="607.26" font-size="23.80" font-weight="400" fill="#fff" textLength="46.29" lengthAdjust="spacingAndGlyphs">2020</tspan><tspan x="923.83" y="607.31" font-size="21.46" font-weight="300" fill="#fff" font-family='"Noto Sans CJK KR", "NanumGothic", "Liberation Sans", sans-serif' textLength="19.05" lengthAdjust="spacingAndGlyphs">년</tspan></text>
<g transform="translate(155.9 555.5)">
<path d="M28.3,13.6 L28.3,27.5 L22.4,27.5 L22.4,38.6 L13.4,38.6 Z" fill="#6496cb" stroke="#6496cb" stroke-width="1.8" stroke-linejoin="round"/>
<path d="M28.3,13.6 L43,38.6 L34.3,38.6 L34.3,27.5 L28.3,27.5 Z" fill="#3563ad" stroke="#3563ad" stroke-width="1.8" stroke-linejoin="round"/>
</g>
<g transform="translate(155.9 628.0)">
<path d="M21.599999999999998,10.6 q-2.2,2.816 0.6,5.3759999999999994 q2.8,3.1999999999999997 -1.2,7.423999999999999" fill="none" stroke="#7d8bbb" stroke-width="1.5" stroke-linecap="round"/>
<path d="M27.5,10.6 q-2.2,2.816 0.6,5.3759999999999994 q2.8,3.1999999999999997 -1.2,7.423999999999999" fill="none" stroke="#7d8bbb" stroke-width="1.5" stroke-linecap="round"/>
<path d="M33.5,10.6 q-2.2,2.816 0.6,5.3759999999999994 q2.8,3.1999999999999997 -1.2,7.423999999999999" fill="none" stroke="#7d8bbb" stroke-width="1.5" stroke-linecap="round"/>
<path d="M11,27.7 L28.1,27.7 L28.1,44.8 L22,44.8 L21.2,42.2 Q11.6,37.5 11,27.7 Z" fill="#6496cb"/>
<path d="M45,27.7 L28.1,27.7 L28.1,44.8 L33.4,44.8 L34.3,42.2 Q44.2,37.5 45,27.7 Z" fill="#3563ad"/>
</g>
<g transform="translate(155.9 700.5)" fill="none" stroke="#6d7fb3" stroke-width="1.5" stroke-linecap="round">
<path d="M36,18.2 Q27,15.5 18,18.5 Q6.5,23 6.2,31.5 Q7.5,40.5 22,42 Q36,43 43.5,36 Q48.5,30.5 42,25.5"/>
<path d="M26.5,26.5 Q31,20.5 37.5,18.5 L41.5,15"/>
<path d="M41,17.5 Q42.5,23 40.5,28 Q39,33 36.5,36.5"/>
<circle cx="45.2" cy="12.6" r="2.6" fill="#6a7ec6" stroke="none"/>
<path d="M40,18.5 L44.5,13.5" stroke="#5577c8" stroke-width="2.6"/>
<path d="M13.5,26 l0.8,0.8 M17,30 l0.8,0.8 M20.5,24.5 l0.6,0.6" stroke-width="1" stroke="#a9b3d4"/>
</g>
<g transform="translate(155.9 773.0)">
<path d="M18.8,19.1 L28.3,19.1 L28.3,47.7 L20.3,47.7 Z" fill="#6496cb"/>
<path d="M36.1,19.1 L28.3,19.1 L28.3,47.7 L34.6,47.7 Z" fill="#3563ad"/>
<path d="M27.6,19.6 L29.3,10 L38.2,9.2" fill="none" stroke="#4d6fae" stroke-width="2.4" stroke-linejoin="round"/>
</g>
<g transform="translate(155.9 845.5)">
<path d="M11.3,23.7 L11.3,36.1 A16.45,5.2 0 0 0 27.9,41.3 L27.9,23.7 Z" fill="#6496cb"/>
<path d="M44.4,23.7 L44.4,36.1 A16.45,5.2 0 0 1 27.9,41.3 L27.9,23.7 Z" fill="#3563ad"/>
<ellipse cx="27.85" cy="23.7" rx="15.6" ry="4.6" fill="#fdfeff" stroke="#6e8fc0" stroke-width="1.7"/>
<ellipse cx="24" cy="24.3" rx="2" ry="1.1" fill="#6f86a6"/><ellipse cx="29.6" cy="24.3" rx="2.3" ry="1.1" fill="#46609a"/>
</g>
<g transform="translate(155.9 918.0)">
<path d="M12.8,22.7 A15.6,10.2 0 0 1 28.4,12.6 L28.4,22.7 Z" fill="#6496cb"/>
<path d="M44.2,22.7 A15.8,10.2 0 0 0 28.3,12.6 L28.3,22.7 Z" fill="#3563ad"/>
<rect x="13" y="26.1" width="15.3" height="3.3" fill="#7aa3cd"/><rect x="28.3" y="26.1" width="15.6" height="3.3" fill="#4b72ab"/>
<path d="M12.8,33.2 A15.6,9.4 0 0 0 28.4,42.5 L28.4,33.2 Z" fill="#6496cb"/>
<path d="M44.2,33.2 A15.8,9.4 0 0 1 28.3,42.5 L28.3,33.2 Z" fill="#3563ad"/>
</g>
<g transform="translate(155.9 990.5)">
<rect x="36" y="18.4" width="7" height="18.8" rx="2.2" fill="none" stroke="#3563ad" stroke-width="3.2"/>
<rect x="13.1" y="13.8" width="15.2" height="28.4" fill="#6496cb"/>
<path d="M28.3,13.8 L33.4,13.8 Q34.9,13.8 34.9,15.3 L34.9,40.7 Q34.9,42.2 33.4,42.2 L28.3,42.2 Z" fill="#3563ad"/>
</g>
<g transform="translate(818.1 555.5)">
<path d="M28.3,13.6 L28.3,27.5 L22.4,27.5 L22.4,38.6 L13.4,38.6 Z" fill="#6496cb" stroke="#6496cb" stroke-width="1.8" stroke-linejoin="round"/>
<path d="M28.3,13.6 L43,38.6 L34.3,38.6 L34.3,27.5 L28.3,27.5 Z" fill="#3563ad" stroke="#3563ad" stroke-width="1.8" stroke-linejoin="round"/>
</g>
<g transform="translate(818.1 628.0)">
<path d="M21.599999999999998,10.6 q-2.2,2.816 0.6,5.3759999999999994 q2.8,3.1999999999999997 -1.2,7.423999999999999" fill="none" stroke="#7d8bbb" stroke-width="1.5" stroke-linecap="round"/>
<path d="M27.5,10.6 q-2.2,2.816 0.6,5.3759999999999994 q2.8,3.1999999999999997 -1.2,7.423999999999999" fill="none" stroke="#7d8bbb" stroke-width="1.5" stroke-linecap="round"/>
<path d="M33.5,10.6 q-2.2,2.816 0.6,5.3759999999999994 q2.8,3.1999999999999997 -1.2,7.423999999999999" fill="none" stroke="#7d8bbb" stroke-width="1.5" stroke-linecap="round"/>
<path d="M11,27.7 L28.1,27.7 L28.1,44.8 L22,44.8 L21.2,42.2 Q11.6,37.5 11,27.7 Z" fill="#6496cb"/>
<path d="M45,27.7 L28.1,27.7 L28.1,44.8 L33.4,44.8 L34.3,42.2 Q44.2,37.5 45,27.7 Z" fill="#3563ad"/>
</g>
<g transform="translate(818.1 700.5)" fill="none" stroke="#6d7fb3" stroke-width="1.5" stroke-linecap="round">
<path d="M36,18.2 Q27,15.5 18,18.5 Q6.5,23 6.2,31.5 Q7.5,40.5 22,42 Q36,43 43.5,36 Q48.5,30.5 42,25.5"/>
<path d="M26.5,26.5 Q31,20.5 37.5,18.5 L41.5,15"/>
<path d="M41,17.5 Q42.5,23 40.5,28 Q39,33 36.5,36.5"/>
<circle cx="45.2" cy="12.6" r="2.6" fill="#6a7ec6" stroke="none"/>
<path d="M40,18.5 L44.5,13.5" stroke="#5577c8" stroke-width="2.6"/>
<path d="M13.5,26 l0.8,0.8 M17,30 l0.8,0.8 M20.5,24.5 l0.6,0.6" stroke-width="1" stroke="#a9b3d4"/>
</g>
<g transform="translate(818.1 773.0)">
<path d="M23.2,18.6 Q24,13.9 27.6,13.9 Q32,13.9 32.6,18.6" fill="none" stroke="#4f78b8" stroke-width="2.2"/>
<path d="M13.4,17.9 L27.4,17.9 L27.4,41.2 L13.4,41.2 Q11.9,41.2 11.9,39.7 L11.9,19.4 Q11.9,17.9 13.4,17.9 Z" fill="#6496cb"/>
<path d="M42.4,17.9 L27.4,17.9 L27.4,41.2 L42.4,41.2 Q43.9,41.2 43.9,39.7 L43.9,19.4 Q43.9,17.9 42.4,17.9 Z" fill="#3563ad"/>
<path d="M25,23 h4.8 v4.1 h4.1 v4.8 h-4.1 v4.1 h-4.8 v-4.1 h-4.1 v-4.8 h4.1 Z" fill="#fcfeff"/>
</g>
<g transform="translate(818.1 845.5)">
<path d="M12.8,22.7 A15.6,10.2 0 0 1 28.4,12.6 L28.4,22.7 Z" fill="#6496cb"/>
<path d="M44.2,22.7 A15.8,10.2 0 0 0 28.3,12.6 L28.3,22.7 Z" fill="#3563ad"/>
<rect x="13" y="26.1" width="15.3" height="3.3" fill="#7aa3cd"/><rect x="28.3" y="26.1" width="15.6" height="3.3" fill="#4b72ab"/>
<path d="M12.8,33.2 A15.6,9.4 0 0 0 28.4,42.5 L28.4,33.2 Z" fill="#6496cb"/>
<path d="M44.2,33.2 A15.8,9.4 0 0 1 28.3,42.5 L28.3,33.2 Z" fill="#3563ad"/>
</g>
<g transform="translate(818.1 918.0)">
<path d="M18.8,19.1 L28.3,19.1 L28.3,47.7 L20.3,47.7 Z" fill="#6496cb"/>
<path d="M36.1,19.1 L28.3,19.1 L28.3,47.7 L34.6,47.7 Z" fill="#3563ad"/>
<path d="M27.6,19.6 L29.3,10 L38.2,9.2" fill="none" stroke="#4d6fae" stroke-width="2.4" stroke-linejoin="round"/>
</g>
<g transform="translate(818.1 990.5)">
<path d="M22.2,11 q-2.2,2.5520000000000005 0.6,4.872000000000001 q2.8,2.9000000000000004 -1.2,6.728000000000001" fill="none" stroke="#6d7fbd" stroke-width="2.2" stroke-linecap="round"/>
<path d="M31.6,11 q-2.2,2.5520000000000005 0.6,4.872000000000001 q2.8,2.9000000000000004 -1.2,6.728000000000001" fill="none" stroke="#6d7fbd" stroke-width="2.2" stroke-linecap="round"/>
<path d="M27.4,27 Q20,25.8 14.5,27.5 Q8.6,30 9,34.8 Q10,40.5 20,42 L27.4,42.6 Z" fill="#6496cb"/>
<path d="M27.4,27 Q36,25.5 41,27.2 Q46,29.5 45.6,33.5 Q44.5,40 34,42.2 L27.4,42.6 Z" fill="#3563ad"/>
<path d="M19.2,27.2 L15.8,34 M26,26.6 L22.6,33.8 M33.8,26.8 L30.2,34.2" stroke="#fff" stroke-width="1.9" stroke-linecap="round"/>
</g>
</svg>
</body></html>
